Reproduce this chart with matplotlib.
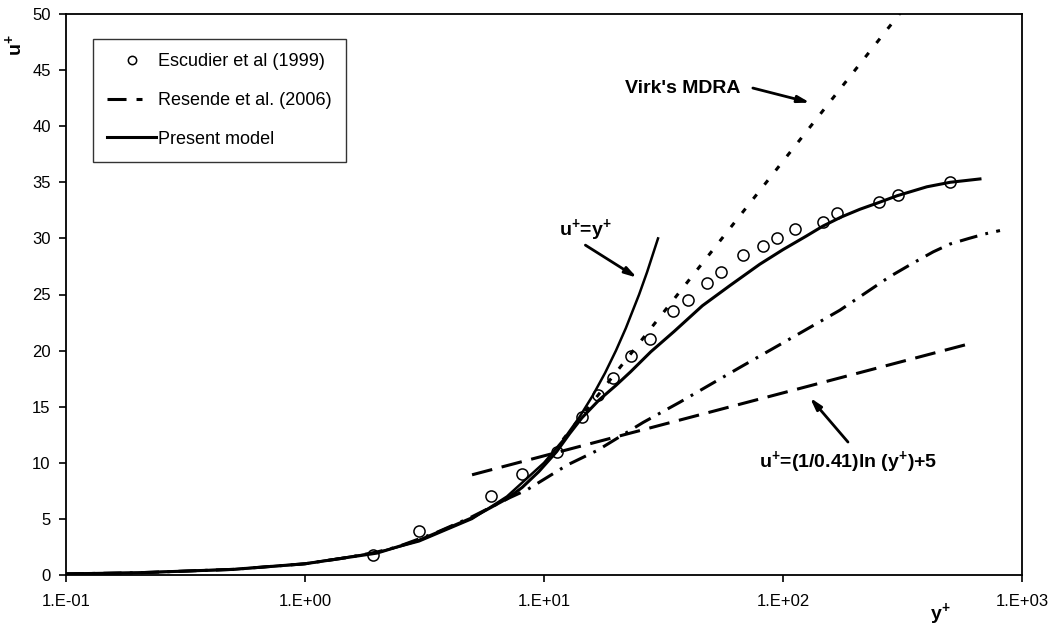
import numpy as np
import matplotlib
matplotlib.use("Agg")
import matplotlib.pyplot as plt
from matplotlib.lines import Line2D
from matplotlib.ticker import FixedLocator, FuncFormatter, NullLocator

plt.rcParams['font.family'] = ['Liberation Sans', 'DejaVu Sans']
plt.rcParams['mathtext.fontset'] = 'custom'
plt.rcParams['mathtext.rm'] = 'Liberation Sans'
plt.rcParams['mathtext.bf'] = 'Liberation Sans:bold'
plt.rcParams['lines.scale_dashes'] = False

# Escudier et al (1999) measurements
esc_y = [1.93, 3.0, 6.0, 8.1, 11.3, 14.4, 16.8, 19.4, 23.1, 27.8, 34.7, 40.1, 48.1,
         55.1, 68.1, 82.5, 94.4, 112, 147, 168, 252, 303, 500]
esc_u = [1.8, 3.9, 7.0, 9.0, 11.0, 14.1, 16.0, 17.6, 19.5, 21.0, 23.5, 24.5, 26.0,
         27.0, 28.5, 29.3, 30.0, 30.8, 31.5, 32.3, 33.2, 33.9, 35.0]

# Resende et al. (2006)
res_y = [0.1, 0.2, 0.5, 1, 1.5, 2, 2.43, 3.56, 4.9, 7.2, 8.5, 12.5, 16.7, 26, 37,
         66, 104, 173, 280, 350, 425, 500, 600, 700, 809]
res_u = [0.1, 0.2, 0.5, 1.0, 1.55, 2.05, 2.5, 3.8, 5.1, 6.9, 7.6, 9.8, 11.1, 13.6,
         15.4, 18.5, 20.9, 23.6, 26.6, 27.8, 28.8, 29.5, 30.0, 30.4, 30.7]

# present model
mod_y = [0.1, 0.2, 0.5, 1, 2, 3, 5, 7, 8.1, 9.5, 11.3, 12.8, 14.4, 17, 20, 23, 28,
         35, 46, 60, 80, 100, 125, 147, 175, 210, 252, 300, 400, 500, 667]
mod_u = [0.1, 0.2, 0.5, 1.0, 1.95, 3.1, 5.1, 6.8, 7.8, 9.2, 11.0, 12.6, 14.0, 15.6,
         16.9, 18.1, 19.9, 21.7, 24.0, 25.8, 27.7, 29.0, 30.2, 31.1, 31.9, 32.6,
         33.2, 33.8, 34.6, 35.0, 35.3]

# viscous sublayer u+ = y+
lin_y = [0.1, 0.2, 0.5, 1, 2, 3, 5, 7, 10, 12, 14, 16, 18, 20, 22, 25, 27, 30]
lin_u = [0.1, 0.2, 0.5, 1, 2, 3, 5, 7, 10, 12, 14, 16, 18, 20, 22, 25, 27, 30]

# Virk's MDRA, u+ = 11.7 ln y+ - 17 (straight on log axis)
virk_y = [12.0, 320.0]
virk_u = [12.07, 50.49]

# log law u+ = (1/0.41) ln y+ + 5
log_y = [5.0, 605.0]
log_u = [8.93, 20.62]

xticks = [0.1, 1, 10, 100, 1000]
yticks = [0, 5, 10, 15, 20, 25, 30, 35, 40, 45, 50]

fig = plt.figure(figsize=(10.58, 6.32), dpi=100)
ax = fig.add_axes([66 / 1058, 1 - 575 / 632, 956 / 1058, 561 / 632])

ax.plot(virk_y, virk_u, color='k', lw=2.2, dashes=(4, 9), dash_capstyle='butt')
ax.plot(log_y, log_u, color='k', lw=2.2, dashes=(15, 7), dash_capstyle='butt')
ax.plot(res_y, res_u, color='k', lw=2.2, dashes=(13, 6, 2, 6), dash_capstyle='butt')
ax.plot(lin_y, lin_u, color='k', lw=1.8)
ax.plot(mod_y, mod_u, color='k', lw=2.2)
ax.plot(esc_y, esc_u, ls='none', marker='o', ms=8, mfc='none', mec='k', mew=1.1)

ax.set_xscale('log')
ax.set_xlim(0.1, 1000)
ax.set_ylim(0, 50)
ax.xaxis.set_major_locator(FixedLocator(xticks))
ax.xaxis.set_minor_locator(NullLocator())
ax.xaxis.set_major_formatter(FuncFormatter(lambda v, p: f"1.E{int(round(np.log10(v))):+03d}"))
ax.yaxis.set_major_locator(FixedLocator(yticks))
ax.tick_params(direction='out', length=5, width=1.2, labelsize=12, colors='k')
ax.tick_params(axis='x', pad=9)
ax.tick_params(axis='y', pad=6)
for s in ax.spines.values():
    s.set_linewidth(1.3)
    s.set_color('k')

# annotations
arrow = dict(arrowstyle='-|>,head_length=0.7,head_width=0.2', color='k', lw=2,
             shrinkA=0, shrinkB=0)
ax.annotate('', xy=(129.7, 42.1), xytext=(74.8, 43.4), arrowprops=arrow)
ax.text(66.1, 43.4, "Virk's MDRA", ha='right', va='center', fontsize=14, fontweight='bold')

ax.annotate('', xy=(24.5, 26.5), xytext=(14.9, 29.4), arrowprops=arrow)
ax.text(14.9, 30.7, r'u$^{\mathbf{+}}$=y$^{\mathbf{+}}$', ha='center', va='center',
        fontsize=14, fontweight='bold')

ax.annotate('', xy=(129.7, 15.8), xytext=(187, 11.85), arrowprops=arrow)
ax.text(187, 10.0, r'u$^{\mathbf{+}}$=(1/0.41)ln (y$^{\mathbf{+}}$)+5', ha='center',
        va='center', fontsize=14, fontweight='bold')

# axis labels
fig.text(15 / 1058, 1 - 45 / 632, r'u$^{\mathbf{+}}$', rotation=90, ha='center',
         va='center', fontsize=14, fontweight='bold')
fig.text(940 / 1058, 1 - 615 / 632, r'y$^{\mathbf{+}}$', ha='center', va='center',
         fontsize=14, fontweight='bold')

handles = [
    Line2D([], [], ls='none', marker='o', ms=6, mfc='none', mec='k', mew=1.1),
    Line2D([], [], color='k', lw=2.2, dashes=(13.7, 7.2, 4.3, 30)),
    Line2D([], [], color='k', lw=2.2),
]
labels = ['Escudier et al (1999)', 'Resende et al. (2006)', 'Present model']
leg = ax.legend(handles, labels, loc='upper left', bbox_to_anchor=(0.0282, 0.9554),
                borderaxespad=0, fontsize=13, frameon=True, fancybox=False,
                handlelength=2.7, handletextpad=0.1, borderpad=0.8,
                labelspacing=1.2)
leg.get_frame().set_edgecolor('k')
leg.get_frame().set_linewidth(1.0)

fig.savefig('out.png', dpi=100)
